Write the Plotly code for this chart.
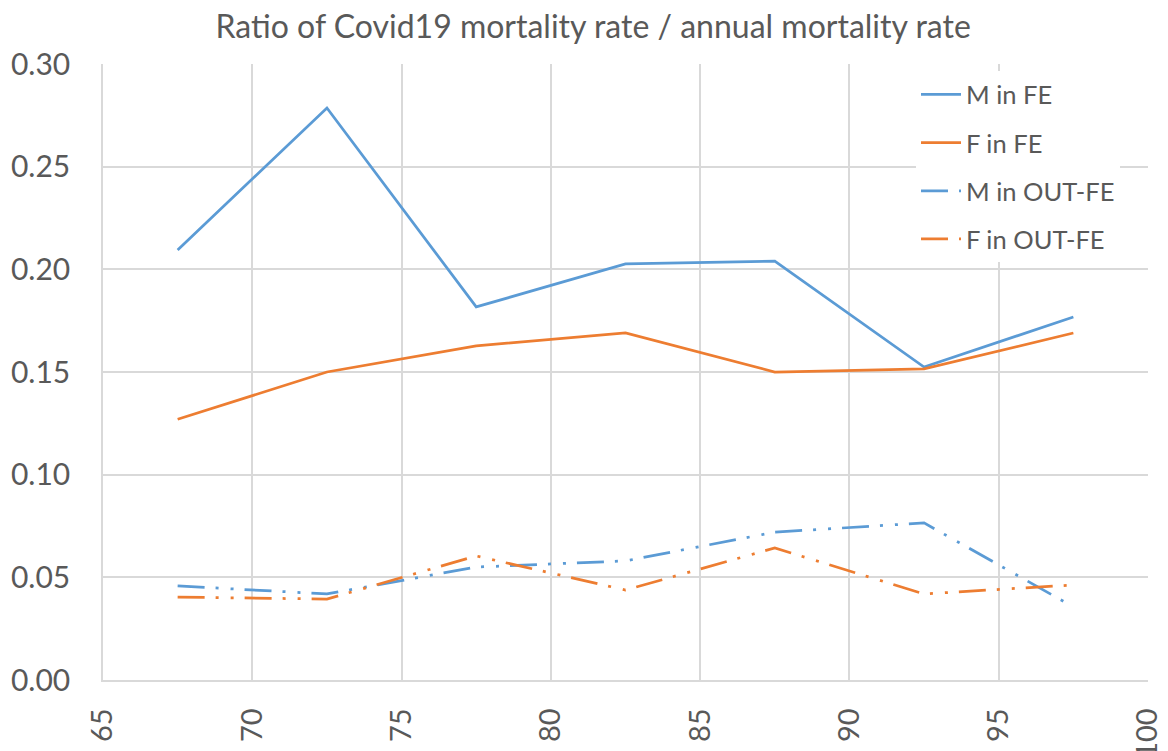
import plotly.graph_objects as go

ages = [67.5, 72.5, 77.5, 82.5, 87.5, 92.5, 97.5]
m_in_fe = [0.2094, 0.2786, 0.1817, 0.2026, 0.2040, 0.1524, 0.1768]
f_in_fe = [0.1270, 0.1500, 0.1627, 0.1690, 0.1500, 0.1515, 0.1690]
m_out_fe = [0.0458, 0.0419, 0.0550, 0.0580, 0.0720, 0.0765, 0.0356]
f_out_fe = [0.0404, 0.0394, 0.0604, 0.0438, 0.0643, 0.0419, 0.0463]

x_ticks = [65, 70, 75, 80, 85, 90, 95, 100]
y_ticks = [0.0, 0.05, 0.10, 0.15, 0.20, 0.25, 0.30]

BLUE = "#5B9BD5"
ORANGE = "#ED7D31"
GRID = "#D9D9D9"
TEXT = "#595959"
FONT = "Lato"
DASH = "27px,11px,3px,12px,3px,11px"

series = [
    ("M in FE", m_in_fe, BLUE, "solid"),
    ("F in FE", f_in_fe, ORANGE, "solid"),
    ("M in OUT-FE", m_out_fe, BLUE, DASH),
    ("F in OUT-FE", f_out_fe, ORANGE, DASH),
]

fig = go.Figure()
for i, (name, vals, color, dash) in enumerate(series):
    fig.add_trace(go.Scatter(
        x=ages, y=vals, mode="lines", name=name, legendgroup=str(i),
        line=dict(color=color, width=2.75, dash=dash),
    ))

fig.update_layout(
    width=1168, height=751,
    margin=dict(l=95, r=28, t=56, b=79),
    paper_bgcolor="white", plot_bgcolor="white",
    font=dict(family=FONT, color=TEXT),
    title=dict(text="Ratio of Covid19 mortality rate / annual mortality rate",
               x=0.501, xref="container", xanchor="center",
               y=0.975, yref="container", yanchor="middle",
               font=dict(size=32, color=TEXT, family=FONT)),
    legend=dict(x=0.778, y=0.988, xanchor="left", yanchor="top",
                bgcolor="white", font=dict(size=25.5, color=TEXT, family=FONT),
                tracegroupgap=12, itemwidth=40),
    showlegend=True,
)
fig.update_xaxes(
    range=[65, 100], tickvals=x_ticks, ticktext=[str(v) for v in x_ticks],
    tickangle=-90, showgrid=True, gridcolor=GRID, gridwidth=1.5,
    showline=True, linecolor=GRID, linewidth=1.5, zeroline=False,
    ticks="", tickfont=dict(size=29, color=TEXT, family=FONT),
    automargin=False, ticklabelstandoff=15, ticklabeloverflow="allow",
)
fig.update_yaxes(
    range=[0, 0.30], tickvals=y_ticks, ticktext=[f"{v:.2f}" for v in y_ticks],
    showgrid=True, gridcolor=GRID, gridwidth=1.5,
    showline=True, linecolor=GRID, linewidth=1.5, zeroline=False,
    ticks="", tickfont=dict(size=30, color=TEXT, family=FONT),
    automargin=False, ticklabelstandoff=25, ticklabeloverflow="allow",
)

fig.write_html("out.html")
